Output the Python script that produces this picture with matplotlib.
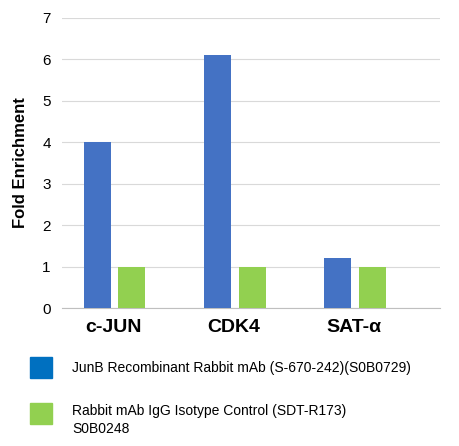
import matplotlib
matplotlib.use("Agg")
import matplotlib.pyplot as plt
from matplotlib.patches import Rectangle

categories = ["c-JUN", "CDK4", "SAT-α"]
junb = [4.0, 6.1, 1.2]
igg = [1.0, 1.0, 1.0]
series_names = ["JunB Recombinant Rabbit mAb (S-670-242)(S0B0729)",
                "Rabbit mAb IgG Isotype Control (SDT-R173)\nS0B0248"]

plt.rcParams['font.family'] = ['Liberation Sans', 'DejaVu Sans']
fig = plt.figure(figsize=(4.59, 4.46), dpi=100)
ax = fig.add_axes([0.135, 0.309, 0.824, 0.651])
x = list(range(len(categories)))
w = 0.225
ax.bar([i - 0.14 for i in x], junb, w, color="#4472c4", zorder=3)
ax.bar([i + 0.15 for i in x], igg, w, color="#92d050", zorder=3)
ax.set_xlim(-0.433, 2.717)
ax.set_ylim(0, 7)
ax.set_yticks(range(8))
ax.grid(axis='y', color='#d9d9d9', lw=0.8, zorder=0)
for s in ax.spines.values():
    s.set_visible(False)
ax.spines['bottom'].set_visible(True)
ax.spines['bottom'].set_color('#bfbfbf')
ax.tick_params(length=0)
ax.tick_params(axis='y', labelsize=11, pad=8)
ax.tick_params(axis='x', pad=8)
ax.set_xticks(x)
ax.set_xticklabels(categories, fontsize=14, fontweight='bold')
ax.set_ylabel("Fold Enrichment", fontsize=12, fontweight='bold', labelpad=10)

fig.patches.append(Rectangle((30/459, 1-378/446), 22/459, 21/446, transform=fig.transFigure, color="#0070c0"))
fig.patches.append(Rectangle((30/459, 1-424/446), 22/459, 21/446, transform=fig.transFigure, color="#92d050"))
fig.text(72/459, 1-368/446, series_names[0], fontsize=10, va='center')
fig.text(72/459, 1-420/446, series_names[1], fontsize=10, va='center', linespacing=1.3)
fig.savefig("out.png", dpi=100)
